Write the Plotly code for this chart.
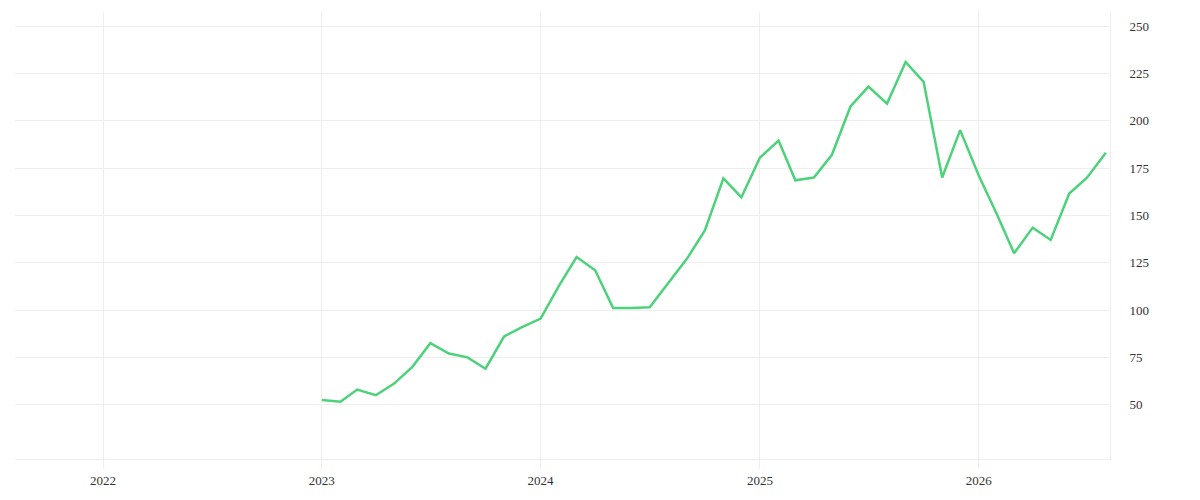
import plotly.graph_objects as go
import pandas as pd

dates = pd.date_range("2023-01-01", periods=44, freq="MS")
values = [52.5, 51.5, 58, 55, 61, 70, 82.5, 77, 75, 69, 86, 91,
          95.5, 113, 128, 121, 101, 101, 101.5, 114, 127, 142, 169.5, 159.5,
          180.5, 189.5, 168.5, 170, 182, 207.5, 218, 209, 231, 220.5, 170, 195,
          171, 150, 130, 143.5, 137, 161.5, 170, 183]
y_ticks = [50, 75, 100, 125, 150, 175, 200, 225, 250]
x_ticks = ["2022-01-01", "2023-01-01", "2024-01-01", "2025-01-01", "2026-01-01"]
x_labels = ["2022", "2023", "2024", "2025", "2026"]

fig = go.Figure(go.Scatter(x=dates, y=values, mode="lines",
                           line=dict(color="#4dd27b", width=2.5)))
fig.update_layout(
    width=1200, height=500, paper_bgcolor="white", plot_bgcolor="white",
    margin=dict(l=7, r=98, t=4, b=49), showlegend=False,
    font=dict(family="Liberation Serif", size=13, color="#333"),
)
fig.update_xaxes(range=["2021-08-07", "2026-08-08"], tickvals=x_ticks, ticktext=x_labels,
                 showgrid=True, gridcolor="#eeeeee", showline=True, linecolor="#eeeeee",
                 ticks="outside", ticklen=9, tickcolor="#eeeeee", zeroline=False)
fig.update_yaxes(side="right", range=[21.3, 257.4], tickvals=y_ticks,
                 showgrid=True, gridcolor="#eeeeee", showline=True, linecolor="#eeeeee",
                 ticks="outside", ticklen=0, zeroline=False, ticklabelstandoff=16)
fig.write_html("out.html")
